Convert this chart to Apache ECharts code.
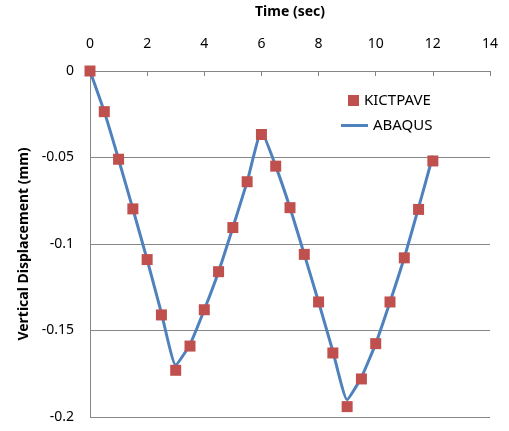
<!DOCTYPE html>
<html>
<head>
<meta charset="utf-8">
<script src="https://cdn.jsdelivr.net/npm/echarts@6/dist/echarts.min.js"></script>
<style>html,body{margin:0;padding:0;background:#fff;}#c{width:509px;height:431px;}</style>
</head>
<body>
<div id="c"></div>
<script>
const times = [0,0.5,1,1.5,2,2.5,3,3.5,4,4.5,5,5.5,6,6.5,7,7.5,8,8.5,9,9.5,10,10.5,11,11.5,12];
const kictpave = [0,-0.0235,-0.051,-0.0797,-0.109,-0.141,-0.173,-0.159,-0.138,-0.116,-0.0905,-0.064,-0.0367,-0.055,-0.079,-0.106,-0.1335,-0.163,-0.194,-0.178,-0.1576,-0.1335,-0.108,-0.080,-0.052];
const abaqus = [0,-0.0235,-0.051,-0.0797,-0.109,-0.140,-0.170,-0.158,-0.138,-0.116,-0.0905,-0.064,-0.035,-0.055,-0.079,-0.106,-0.1335,-0.162,-0.190,-0.177,-0.1576,-0.1335,-0.108,-0.079,-0.049];
const seriesNames = ['KICTPAVE','ABAQUS'];
const xTitle = 'Time (sec)';
const yTitle = 'Vertical Displacement (mm)';

const font = "'Noto Sans', 'Open Sans', sans-serif";
const chart = echarts.init(document.getElementById('c'), null, {renderer:'canvas'});
chart.setOption({
  animation:false,
  backgroundColor:'#fff',
  textStyle:{fontFamily:font},
  grid:{left:90,right:19,top:68,bottom:14},
  legend:[{
    data:[{name:seriesNames[0],icon:'rect'}],
    left:343, top:88, itemWidth:11, itemHeight:11, itemGap:6,
    textStyle:{fontSize:15,color:'#000',fontFamily:font}
  },{
    data:[{name:seriesNames[1],icon:'rect'}],
    left:336, top:113, itemWidth:27, itemHeight:3, itemGap:2,
    textStyle:{fontSize:15,color:'#000',fontFamily:font}
  }],
  xAxis:{
    type:'value', position:'top', min:0, max:14, interval:2,
    name:xTitle, nameLocation:'middle', nameGap:52,
    nameTextStyle:{fontSize:14,fontWeight:'bold',color:'#000',fontFamily:font},
    axisLine:{show:true,onZero:false,lineStyle:{color:'#868686',width:1}},
    axisTick:{show:true,inside:true,length:5,lineStyle:{color:'#868686'}},
    axisLabel:{fontSize:14,color:'#000',margin:20,fontFamily:font},
    splitLine:{show:false}
  },
  yAxis:{
    type:'value', min:-0.2, max:0, interval:0.05,
    name:yTitle, nameLocation:'middle', nameGap:58, nameRotate:90,
    nameTextStyle:{fontSize:14,fontWeight:'bold',color:'#000',fontFamily:font},
    axisLine:{show:true,lineStyle:{color:'#868686',width:1}},
    axisTick:{show:false},
    axisLabel:{fontSize:14,color:'#000',margin:16,fontFamily:font},
    splitLine:{show:true,lineStyle:{color:'#868686',width:1}}
  },
  series:[{
    name:seriesNames[1], type:'line',
    data:times.map((t,i)=>[t,abaqus[i]]),
    showSymbol:false, smooth:0.15,
    lineStyle:{color:'#4F81BD',width:3},
    itemStyle:{color:'#4F81BD'},
    z:2
  },{
    name:seriesNames[0], type:'scatter',
    data:times.map((t,i)=>[t,kictpave[i]]),
    symbol:'rect', symbolSize:11,
    itemStyle:{color:'#C0504D',opacity:1},
    z:3
  }]
});
</script>
</body>
</html>
